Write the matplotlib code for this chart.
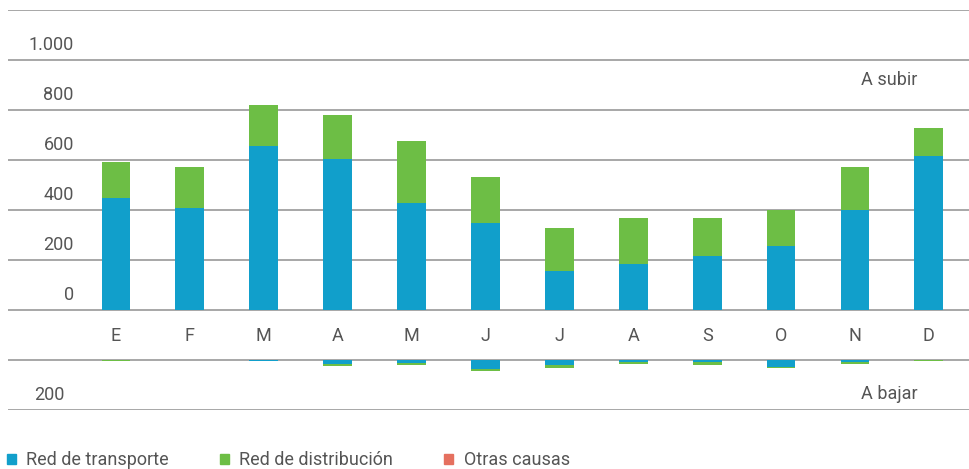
import matplotlib.pyplot as plt
from matplotlib.patches import Patch
import numpy as np

# months and values
meses = ["E", "F", "M", "A", "M", "J", "J", "A", "S", "O", "N", "D"]
subir_transporte = [450, 410, 655, 604, 430, 348, 155, 185, 215, 256, 401, 615]
subir_distribucion = [144, 164, 165, 176, 246, 185, 174, 184, 154, 145, 172, 113]
subir_otras = [0, 0, 0, 0, 0, 0, 0, 0, 0, 0, 0, 0]
bajar_transporte = [0, 0, 5, 17, 11, 37, 19, 7, 8, 27, 7, 0]
bajar_distribucion = [5, 0, 0, 7, 8, 7, 13, 7, 11, 5, 7, 5]
bajar_otras = [0, 0, 0, 0, 0, 0, 0, 0, 0, 0, 0, 0]
ticks_arriba = [0, 200, 400, 600, 800, 1000]
etiquetas_arriba = ["0", "200", "400", "600", "800", "1.000"]

azul = "#119fcb"
verde = "#6dbe45"
rojo = "#e5705f"
gris = "#a0a0a0"
texto = "#555555"

plt.rcParams['font.family'] = ['Roboto', 'DejaVu Sans']
fs = 13

fig = plt.figure(figsize=(9.69, 4.69), dpi=100)
ax = fig.add_axes([8/969, 59/469, 961/969, 400/469])

x = np.arange(len(meses))
w = 0.39
base_baja = -200  # zero line of the lower section

ax.bar(x, subir_transporte, w, color=azul, zorder=3)
ax.bar(x, subir_distribucion, w, bottom=subir_transporte, color=verde, zorder=3)
ax.bar(x, subir_otras, w, bottom=np.add(subir_transporte, subir_distribucion),
       color=rojo, zorder=3)

bt = np.array(bajar_transporte)
bd = np.array(bajar_distribucion)
ax.bar(x, -bt, w, bottom=base_baja, color=azul, zorder=3)
ax.bar(x, -bd, w, bottom=base_baja - bt, color=verde, zorder=3)
ax.bar(x, -np.array(bajar_otras), w, bottom=base_baja - bt - bd, color=rojo, zorder=3)

for g in [1200, 1000, 800, 600, 400, 200, 0, -200, -400]:
    ax.axhline(g, color=gris, lw=1.3, zorder=1)

for t, lab in zip(ticks_arriba, etiquetas_arriba):
    ax.text(-0.57, t + 60, lab, ha="right", va="center", fontsize=fs, color=texto)
ax.text(-0.69, -340, "200", ha="right", va="center", fontsize=fs, color=texto)

for xi, m in zip(x, meses):
    ax.text(xi, -103, m, ha="center", va="center", fontsize=fs, color=texto)

ax.text(10.85, 920, "A subir", ha="right", va="center", fontsize=fs, color=texto)
ax.text(10.85, -336, "A bajar", ha="right", va="center", fontsize=fs, color=texto)

ax.set_xlim(-1.461, 11.543)
ax.set_ylim(-400, 1200)
ax.axis("off")

handles = [Patch(color=azul, label="Red de transporte"),
           Patch(color=verde, label="Red de distribución"),
           Patch(color=rojo, label="Otras causas")]
leg = fig.legend(handles=handles, loc="lower left", bbox_to_anchor=(-0.01, -0.035),
                 ncol=3, frameon=False, fontsize=fs, handlelength=0.5,
                 handleheight=0.5, handletextpad=0.6, columnspacing=2.8)
for t in leg.get_texts():
    t.set_color(texto)

fig.savefig("out.png", dpi=100)
